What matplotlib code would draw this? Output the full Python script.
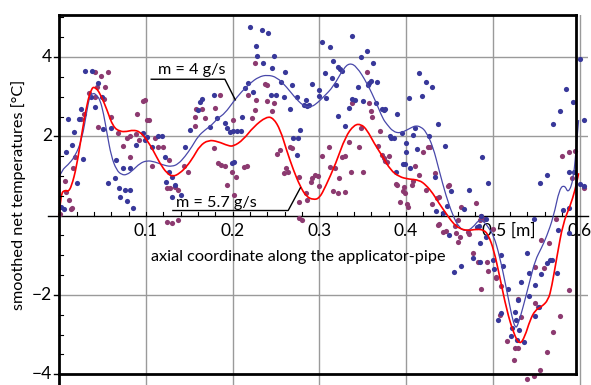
import matplotlib
matplotlib.use("Agg")
import matplotlib.pyplot as plt
from matplotlib.path import Path
from matplotlib.patches import PathPatch
import numpy as np

# ---------------- data ----------------
blue_x = [.002,.005,.008,.010,.015,.017,.020,.023,.025,.027,.030,.037,.038,.041,.045,.049,.050,.056,.060,.064,.065,.069,.070,.073,.076,.078,.081,.082,.085,.089,.096,.099,.101,
          .107,.114,.118,.122,.123,.126,.130,.133,.130,.140,.145,.151,.160,.162,.165,.174,.178,.182,.191,.194,.197,.199,
          .200,.205,.210,.201,.211,.214,.218,.220,.223,.227,.228,.234,.235,.241,.245,.248,.250,.244,.256,.259,.260,.266,.268,.270,.275,.274,.274,.278,.282,.284,.286,.288,.292,.300,
          .303,.307,.308,.300,.312,.315,.316,.319,.322,.324,.322,.326,.330,.334,.338,.338,.341,.345,.348,.350,.355,.357,.359,.356,.362,.365,.367,.372,.374,.376,.381,.383,.386,.388,.389,.395,.396,.399,.400,.400,.403,
          .404,.408,.410,.412,.415,.418,.423,.426,.430,.433,.435,.437,.442,.445,.447,.450,.452,.455,.463,.467,.473,.477,.482,.484,.486,.488,.485,.485,.492,.492,.495,.500,
          .501,.506,.509,.510,.512,.518,.521,.522,.526,.527,.528,.529,.530,.532,.536,.539,.542,.542,.547,.549,.549,.553,.555,.556,.562,.563,.566,.568,.570,.574,.575,.577,.581,.584,.588,.588,.588,.592,.594,.600,.600,.605,.605]
blue_y = [.23,.18,1.61,2.43,1.79,2.12,.83,2.43,2.68,1.44,3.66,3.0,3.66,2.73,3.34,2.99,2.18,.83,2.2,.95,1.40,.7,.48,1.2,.65,.37,.65,1.2,.19,1.78,2.08,1.91,1.99,
          1.74,2.01,2.01,1.47,.86,1.11,.98,.77,.48,.52,1.74,2.16,2.67,2.87,2.95,2.24,3.04,2.46,2.33,2.2,2.1,1.34,
          2.14,2.14,2.14,1.36,2.5,3.21,3.34,4.77,3.13,4.28,4.03,4.68,3.86,4.6,3.72,4.03,3.04,3.04,3.38,3.0,3.62,2.68,3.30,1.95,1.95,1.53,3.0,2.16,2.8,2.92,2.77,2.8,3.32,3.17,
          4.39,3.59,2.96,3.02,4.25,3.46,3.91,3.29,2.51,3.70,3.75,3.65,2.26,2.71,4.53,2.93,2.92,3.25,3.99,2.88,4.16,3.35,3.40,3.30,3.84,2.85,3.36,2.69,2.67,2.69,2.0,1.96,1.96,1.11,2.56,2.08,1.30,1.30,1.83,1.6,2.96,
          1.21,2.04,2.2,1.68,3.59,3.03,3.36,2.01,3.25,.98,.13,2.31,.06,1.76,.24,-.49,.61,-1.41,-1.27,.16,.65,-1.08,-.28,-.27,.0,1.49,-1.16,-.7,-.53,-.09,.82,-1.12,
          -1.35,-2.63,-2.45,-.99,-1.27,-1.86,-3.03,-2.84,-2.42,-2.63,-3.13,-2.13,-2.88,-1.68,-3.18,-.95,-1.44,-2.03,-.09,-1.75,-2.53,-2.3,.82,-1.47,-1.19,1.03,-1.13,-1.12,2.31,-1.44,-.36,2.64,.14,3.19,.19,-.43,1.1,2.86,1.09,3.95,.8,.75,2.41]

purple_x = [.001,.006,.008,.011,.013,.015,.016,.018,.025,.029,.034,.041,.041,.043,.045,.048,.051,.053,.056,.060,.068,.074,.078,.082,.082,.088,.090,.092,.097,.099,.101,
            .103,.107,.110,.114,.120,.124,.124,.127,.128,.130,.133,.137,.137,.144,.149,.157,.157,.158,.165,.168,.178,.180,.183,.185,.187,.191,.193,.199,.200,
            .201,.204,.213,.217,.218,.222,.226,.226,.227,.237,.240,.245,.248,.240,.251,.254,.259,.261,.264,.266,.268,.276,.276,.277,.280,.284,.286,.291,.290,.295,.298,
            .300,.303,.311,.312,.316,.318,.321,.323,.326,.329,.330,.334,.337,.338,.346,.348,.350,.355,.357,.359,.361,.368,.370,.372,.374,.376,.378,.380,.388,.390,.393,.397,.399,.398,.402,
            .401,.407,.408,.410,.415,.420,.423,.425,.428,.430,.433,.436,.438,.437,.438,.442,.446,.448,.449,.456,.458,.460,.460,.462,.463,.471,.473,.477,.481,.483,.486,.486,.485,.490,.493,.494,
            .500,.504,.504,.508,.510,.516,.524,.526,.529,.529,.533,.539,.548,.549,.549,.552,.555,.556,.559,.562,.565,.569,.573,.577,.580,.588,.588,.591,.595,.605]
purple_y = [.05,.87,.6,.4,.18,.19,1.2,1.47,2.43,2.56,3.09,3.0,3.63,3.25,2.23,3.51,2.93,3.25,3.62,2.5,2.09,1.75,1.95,1.47,2.0,2.05,2.56,1.9,2.88,2.92,2.41,
            2.41,1.25,1.95,1.73,1.73,.69,-.15,1.40,.69,-.18,.72,.65,-.11,1.25,1.11,2.26,2.48,2.7,2.68,2.46,1.70,2.71,1.32,3.04,1.28,1.24,.77,1.11,2.41,
            .52,.98,1.22,1.25,3.04,2.46,3.84,2.67,2.92,3.32,3.30,2.65,2.83,2.9,1.56,1.65,1.07,1.20,1.1,1.74,1.7,.98,.35,-.05,-.1,.56,.4,.94,.85,1.03,1.0,
            .75,1.50,1.73,1.22,.61,1.2,.58,.94,1.49,.59,1.5,1.87,1.09,2.83,1.73,2.2,1.09,3.62,2.84,2.65,2.5,1.76,2.14,1.53,1.45,1.39,1.35,1.50,.8,.78,.35,.61,.58,.73,.22,
            .3,.77,.87,1.25,1.03,1.6,.65,1.74,1.74,.3,1.07,.45,.47,-.23,-.21,-.4,-.39,.75,.77,-.26,-.44,-.11,-.66,-.53,.23,-.41,-.45,-.93,.32,-1.16,-1.86,.0,-.12,-.08,-1.16,-1.39,
            -.34,-1.55,-1.58,-2.5,-1.77,-3.15,-3.64,-3.34,-3.34,-2.11,-2.56,-4.13,-4.04,-2.21,-1.30,-2.3,-3.89,-.61,-1.33,-3.43,-.70,-2.93,-.09,-2.53,1.5,1.61,-1.87,.95,1.64,.7]

curve4_x = [0.0,.003,.010,.018,.026,.032,.035,.039,.043,.047,.051,.055,.060,.066,.072,.078,.085,.093,.101,.110,.122,.130,.137,.145,.153,.160,.168,.176,.183,.191,.201,.210,.220,.230,.240,.251,.262,.274,.283,.291,.298,.305,.316,.328,.335,.343,.355,.366,.373,.378,.385,.393,.400,.406,.411,.417,.423,.431,.438,.446,.454,.461,.469,.477,.484,.490,.495,.501,.508,.516,.522,.526,.529,.535,.543,.549,.556,.562,.570,.577,.583,.587,.593,.597,.599]
curve4_y = [0.97,1.15,1.28,1.49,1.91,2.67,3.0,3.1,3.04,2.92,2.58,2.08,1.49,1.15,1.03,1.03,1.15,1.32,1.39,1.36,1.26,1.24,1.30,1.49,1.74,2.0,2.16,2.29,2.46,2.58,2.88,3.12,3.34,3.5,3.55,3.49,3.25,2.92,2.75,2.74,2.85,3.0,3.25,3.72,3.85,3.76,3.34,2.83,2.45,2.3,2.12,2.08,2.15,2.22,2.27,2.24,2.12,1.74,1.15,0.5,0.0,-0.3,-0.4,-0.3,-0.1,-0.15,-0.3,-0.5,-1.03,-1.87,-2.55,-2.84,-2.76,-2.3,-1.62,-1.12,-0.82,-0.53,-0.03,0.69,0.77,0.56,0.90,1.91,2.41]

curve57_x = [0.0,.0015,.007,.010,.014,.020,.026,.032,.037,.041,.047,.055,.062,.070,.078,.085,.093,.101,.108,.116,.124,.131,.139,.147,.155,.162,.172,.183,.195,.201,.212,.224,.239,.247,.255,.262,.270,.278,.285,.293,.300,.307,.319,.330,.340,.348,.355,.363,.373,.382,.392,.403,.415,.423,.431,.438,.446,.454,.461,.471,.481,.490,.495,.501,.508,.516,.524,.531,.537,.543,.549,.556,.564,.568,.574,.581,.589,.595,.599]
curve57_y = [0.0,0.56,0.65,0.6,0.73,1.24,2.08,2.83,3.21,3.25,3.09,2.67,2.24,2.12,2.12,2.16,2.12,1.91,1.66,1.32,1.07,0.98,1.07,1.24,1.49,1.76,1.91,1.87,1.76,1.75,1.91,2.24,2.50,2.46,2.16,1.66,1.15,0.73,0.48,0.40,0.44,0.73,1.32,1.99,2.29,2.31,2.16,1.83,1.49,1.15,0.98,0.92,0.90,0.77,0.56,0.31,0.06,-0.19,-0.32,-0.38,-0.34,-0.36,-0.5,-0.85,-1.54,-2.38,-2.97,-3.26,-3.05,-2.63,-2.38,-2.3,-2.13,-1.79,-1.03,-0.19,0.23,0.65,1.07]

x_ticks = [0.1, 0.2, 0.3, 0.4, 0.5, 0.6]
x_tick_labels = ["0.1", "0.2", "0.3", "0.4", "0.5 [m]", "0.6"]
y_ticks = [-4, -2, 2, 4]
y_tick_labels = ["\u22124", "\u22122", "2", "4"]

FONT = "Lato"
plt.rcParams['font.family'] = [FONT, 'DejaVu Sans']

W, H = 591, 385
fig = plt.figure(figsize=(W/100, H/100), dpi=100)
x0, x1 = 0.0, 0.61
y0, y1 = -4.27, 5.06
left_px = 59.3
right_px = left_px + (x1 - x0) * 867
ax = fig.add_axes([left_px/W, 0, (right_px-left_px)/W, 1 - 15/H])
ax.set_xlim(x0, x1)
ax.set_ylim(y0, y1)
for s in ax.spines.values():
    s.set_visible(False)
ax.set_xticks([])
ax.set_yticks([])

grid_c = "#9a9a9a"
for xv in x_ticks:
    ax.axvline(xv, color=grid_c, lw=1.0, zorder=1)
for yv in [-2, 2, 4]:
    ax.axhline(yv, color=grid_c, lw=1.0, zorder=1)

frame_r = 0.596
# axis line at y=0
ax.plot([-0.013, x1], [0, 0], color="black", lw=1.0, clip_on=False, zorder=2)
for xv in np.arange(0.02, 0.6, 0.02):
    ax.plot([xv, xv], [0, 0.09], color="black", lw=0.8, zorder=2)

# frame
ax.plot([0, frame_r], [y1, y1], color="black", lw=2.0, clip_on=False, zorder=5, solid_capstyle='projecting')
ax.plot([0, frame_r], [-4, -4], color="black", lw=2.0, clip_on=False, zorder=5)
ax.plot([0, 0], [y0, y1], color="black", lw=2.0, clip_on=False, zorder=5)
ax.plot([frame_r, frame_r], [-4, y1], color="black", lw=2.0, clip_on=False, zorder=5)

# y ticks
for yv in np.arange(-4, 5.01, 0.5):
    if abs(yv - round(yv / 2) * 2) < 1e-6:
        if abs(yv) > 1e-6:
            ax.plot([-0.0065, 0], [yv, yv], color="black", lw=1.0, clip_on=False, zorder=5)
    else:
        ax.plot([0, 0.0045], [yv, yv], color="black", lw=0.8, clip_on=False, zorder=5)
for yv, lab in zip(y_ticks, y_tick_labels):
    ax.text(-0.0085, yv, lab, ha="right", va="center", fontsize=12.5, clip_on=False)

# x tick labels
for xv, lab in zip(x_ticks, x_tick_labels):
    if lab.startswith("0.5"):
        ax.text(xv - 0.012, -0.39, lab, ha="left", va="center", fontsize=12.5)
    else:
        ax.text(xv, -0.39, lab, ha="center", va="center", fontsize=12.5)

ax.text(0.276, -1.05, "axial coordinate along the applicator-pipe", ha="center", va="center", fontsize=11.7)
fig.text(19/W, 1 - 195/H, "smoothed net temperatures [°C]", rotation=90, ha="center", va="center", fontsize=11.7)

# scatter
ax.scatter(purple_x, purple_y, s=14, color="#8c3a70", lw=0, zorder=3, clip_on=False)
ax.scatter(blue_x, blue_y, s=14, color="#38389a", lw=0, zorder=3, clip_on=False)


def smooth_path(xs, ys):
    """Quadratic Bezier path: the listed points are control points, drawn by matplotlib's Path."""
    pts = list(zip(xs, ys))
    verts = [pts[0]]
    codes = [Path.MOVETO]
    for i in range(1, len(pts) - 1):
        mid = ((pts[i][0] + pts[i+1][0]) / 2, (pts[i][1] + pts[i+1][1]) / 2)
        verts += [pts[i], mid]
        codes += [Path.CURVE3, Path.CURVE3]
    verts.append(pts[-1])
    codes.append(Path.LINETO)
    return Path(verts, codes)


ax.add_patch(PathPatch(smooth_path(curve4_x, curve4_y), facecolor="none", edgecolor="#4848aa",
                       lw=0.9, zorder=4, clip_on=False))
ax.add_patch(PathPatch(smooth_path(curve57_x, curve57_y), facecolor="none", edgecolor="#ff0000",
                       lw=1.2, zorder=4, clip_on=False))

# annotations
ax.text(0.1525, 3.67, "m = 4 g/s", ha="center", va="center", fontsize=11.7, zorder=6)
ax.plot([0.106, 0.191, 0.203], [3.44, 3.44, 2.92], color="black", lw=1.0, zorder=6)
ax.text(0.181, 0.33, "m = 5.7 g/s", ha="center", va="center", fontsize=11.7, zorder=6)
ax.plot([0.131, 0.264, 0.278], [0.13, 0.13, 0.70], color="black", lw=1.0, zorder=6)

fig.savefig("out.png", dpi=100)
